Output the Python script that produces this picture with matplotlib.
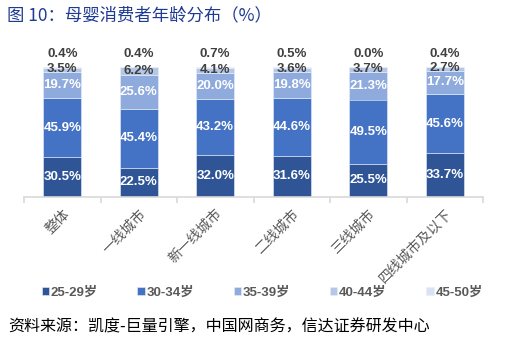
import numpy as np
import matplotlib
matplotlib.use("Agg")
import matplotlib.pyplot as plt

plt.rcParams['font.family'] = ['Liberation Sans', 'Noto Sans CJK SC', 'DejaVu Sans']

categories = ["整体", "一线城市", "新一线城市", "二线城市", "三线城市", "四线城市及以下"]
age_groups = ["25-29岁", "30-34岁", "35-39岁", "40-44岁", "45-50岁"]
a25_29 = [30.5, 22.5, 32.0, 31.6, 25.5, 33.7]
a30_34 = [45.9, 45.4, 43.2, 44.6, 49.5, 45.6]
a35_39 = [19.7, 25.6, 20.0, 19.8, 21.3, 17.7]
a40_44 = [3.5, 6.2, 4.1, 3.6, 3.7, 2.7]
a45_50 = [0.4, 0.4, 0.7, 0.5, 0.0, 0.4]

series = [a25_29, a30_34, a35_39, a40_44, a45_50]
colors = ["#2F5597", "#4472C4", "#8FAADC", "#B4C7E7", "#DAE3F3"]

fig = plt.figure(figsize=(5.14, 3.45), dpi=100)
ax = fig.add_axes([24 / 514, 148 / 345, 459 / 514, 130 / 345])

x = np.arange(len(categories))
bottom = np.zeros(len(categories))
for i, (vals, col) in enumerate(zip(series, colors)):
    vals = np.array(vals)
    ax.bar(x, vals, 0.5, bottom=bottom, color=col, label=age_groups[i],
           edgecolor="#E8EEF8", linewidth=0.4)
    for j, v in enumerate(vals):
        if i < 3:
            ax.text(x[j], bottom[j] + v / 2, f"{v:.1f}%", ha="center", va="center",
                    color="white", fontsize=9.5, fontweight="bold")
        elif i == 3:
            ax.text(x[j], bottom[j] + v / 2 + 0.5, f"{v:.1f}%", ha="center", va="center",
                    color="#404040", fontsize=9.5, fontweight="bold", clip_on=False)
        else:
            ax.text(x[j], 110, f"{v:.1f}%", ha="center", va="center",
                    color="#404040", fontsize=9.5, fontweight="bold", clip_on=False)
    bottom += vals

ax.set_xlim(-0.5, 5.5)
ax.set_ylim(0, 100)
for s in ["top", "right", "left"]:
    ax.spines[s].set_visible(False)
ax.spines["bottom"].set_color("#D9D9D9")
ax.spines["bottom"].set_linewidth(1.2)
ax.set_yticks([])
ax.set_xticks(np.arange(-0.5, 6, 1), minor=False)
ax.set_xticklabels([])
ax.tick_params(axis="x", which="major", length=4, color="#D9D9D9", width=1.2)
ax.set_xticks(x, minor=True)
ax.set_xticklabels(categories, minor=True, rotation=45, ha="right",
                   rotation_mode="anchor", color="#595959", fontsize=10,
                   fontfamily=["Noto Sans CJK SC", "DejaVu Sans"])
ax.tick_params(axis="x", which="minor", length=0, pad=7)

fig.legend(loc="center", bbox_to_anchor=(0.51, 1 - 293 / 345), ncol=5, frameon=False,
           handlelength=0.55, handleheight=0.55, handletextpad=0.15, columnspacing=3.0,
           prop={"size": 9.5, "weight": "bold",
                 "family": ["Liberation Sans", "Noto Sans CJK SC"]},
           labelcolor="#595959")

fig.text(7 / 514, 1 - 15 / 345, "图 10：母婴消费者年龄分布（%）", color="#1F3A93",
         fontsize=12.5, va="center", ha="left",
         fontfamily=["Noto Sans CJK SC", "DejaVu Sans"])
fig.text(8 / 514, 1 - 327 / 345, "资料来源：凯度-巨量引擎，中国网商务，信达证券研发中心",
         color="black", fontsize=11.5, va="center", ha="left", style="italic",
         fontfamily=["Noto Sans CJK SC", "DejaVu Sans"])

fig.savefig("out.png", dpi=100)
